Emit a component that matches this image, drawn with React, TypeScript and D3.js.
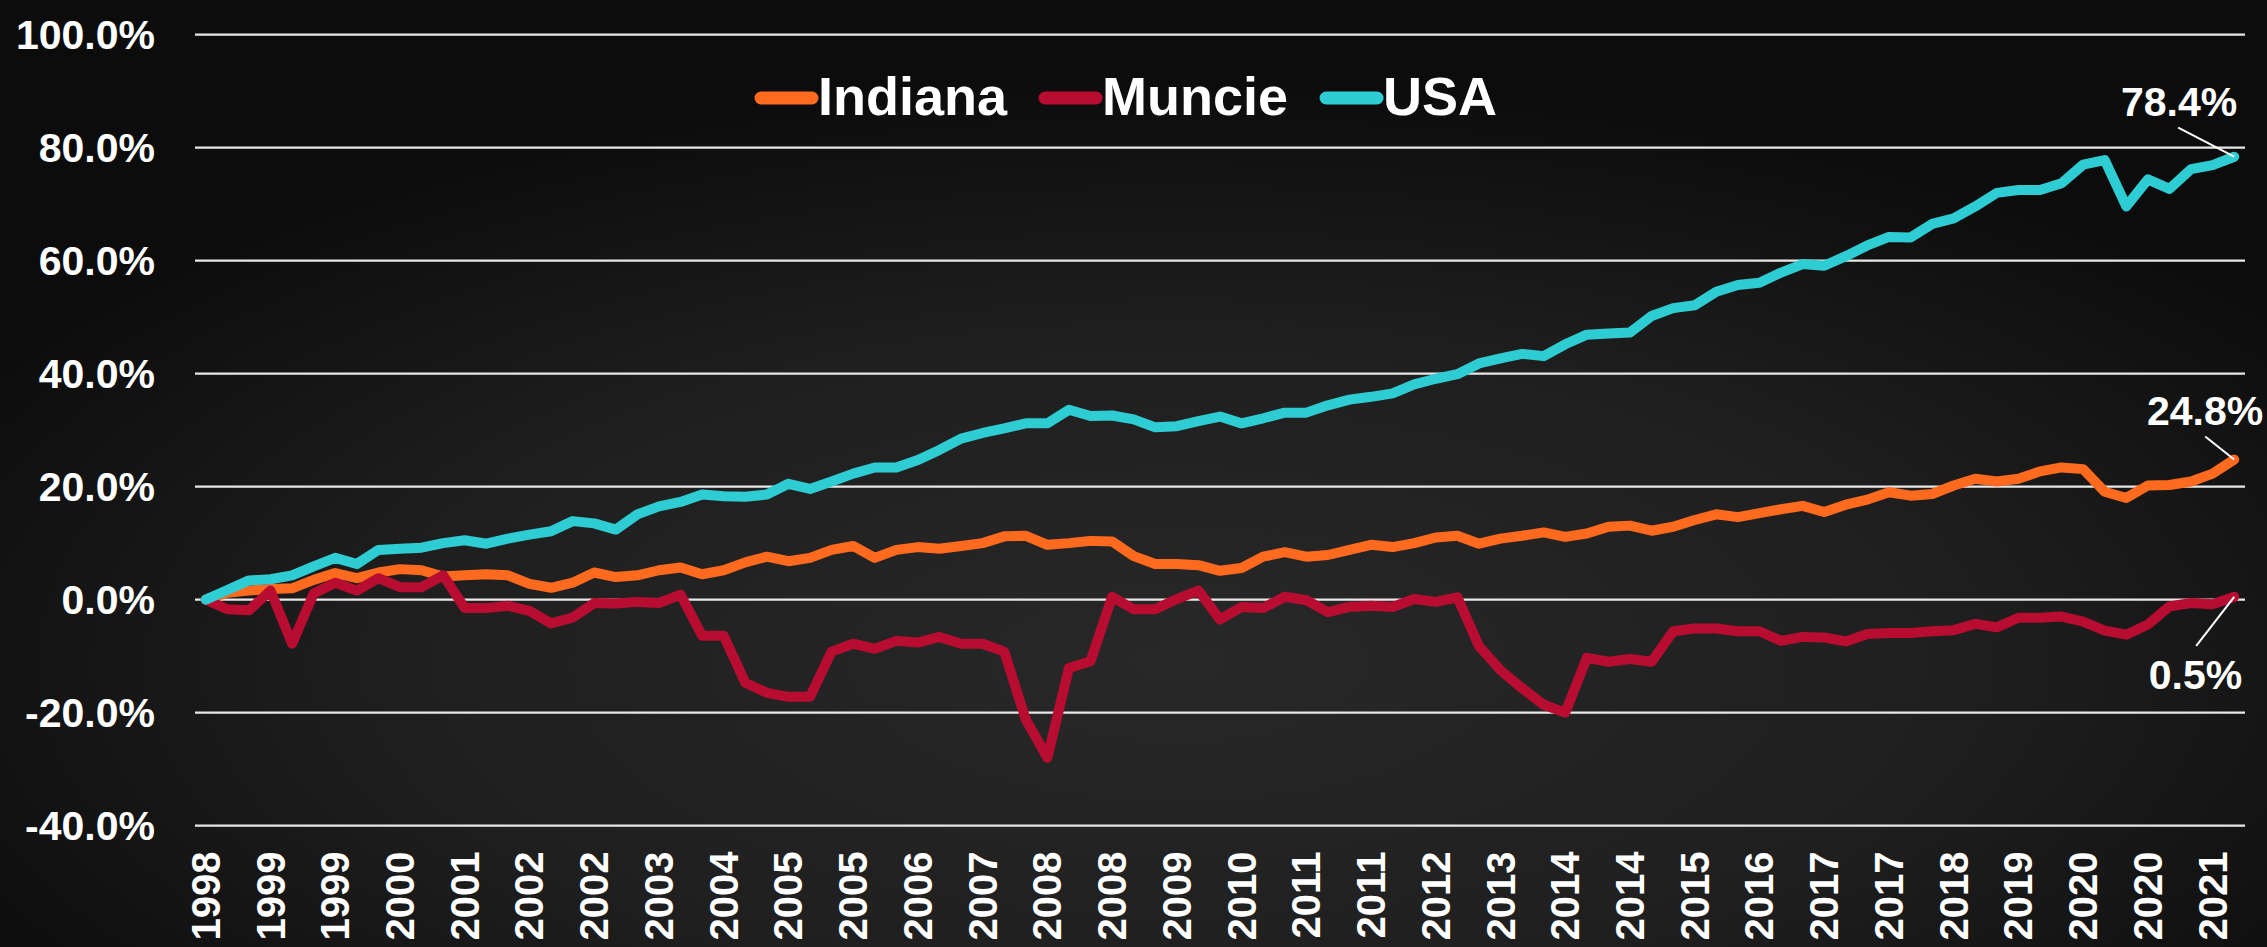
import { useRef, useEffect } from 'react';
import * as d3 from 'd3';

const WIDTH = 2267;
const HEIGHT = 947;

// quarterly, 1998 Q2 .. 2021 Q4, cumulative change in %
const indiana = [
	0, 1.2, 1.6, 1.9, 2.0, 3.5, 4.7, 3.8, 4.8, 5.4, 5.2, 4.1, 4.3, 4.5, 4.3, 2.8,
	2.1, 3.0, 4.8, 4.0, 4.3, 5.2, 5.7, 4.5, 5.2, 6.6, 7.6, 6.8, 7.4, 8.8, 9.5, 7.4,
	8.8, 9.3, 9.0, 9.5, 10.0, 11.2, 11.3, 9.7, 10.0, 10.4, 10.3, 7.7, 6.3, 6.3, 6.1, 5.1,
	5.6, 7.6, 8.4, 7.6, 7.9, 8.8, 9.7, 9.3, 10.0, 11.0, 11.3, 9.9, 10.8, 11.3, 11.9, 11.1,
	11.7, 12.9, 13.1, 12.2, 12.9, 14.1, 15.1, 14.6, 15.3, 16.0, 16.6, 15.5, 16.8, 17.7, 19.0, 18.4,
	18.7, 20.2, 21.4, 20.9, 21.4, 22.7, 23.4, 23.1, 19.1, 18.0, 20.2, 20.3, 20.9, 22.3, 24.8,
];

const muncie = [
	0, -1.7, -1.9, 1.6, -7.8, 1.1, 3.0, 1.6, 3.8, 2.2, 2.2, 4.3, -1.5, -1.5, -1.1, -2.0,
	-4.2, -3.2, -0.6, -0.7, -0.4, -0.6, 0.9, -6.4, -6.4, -14.7, -16.5, -17.2, -17.2, -9.2, -7.8, -8.7,
	-7.3, -7.6, -6.6, -7.8, -7.8, -9.2, -21.2, -28.0, -12.1, -10.9, 0.5, -1.7, -1.7, 0.1, 1.6, -3.5,
	-1.3, -1.5, 0.5, -0.1, -2.2, -1.3, -1.1, -1.3, 0.1, -0.4, 0.4, -8.2, -12.5, -15.7, -18.6, -20.0,
	-10.3, -11.0, -10.5, -11.0, -5.6, -5.1, -5.1, -5.6, -5.6, -7.3, -6.6, -6.7, -7.4, -6.1, -5.9, -5.9,
	-5.6, -5.4, -4.3, -4.9, -3.2, -3.2, -3.0, -3.9, -5.5, -6.2, -4.4, -1.2, -0.6, -0.8, 0.5,
];

const usa = [
	0, 1.7, 3.4, 3.6, 4.3, 5.9, 7.4, 6.3, 8.8, 9.0, 9.2, 10.0, 10.5, 9.9, 10.8, 11.5,
	12.1, 13.9, 13.5, 12.4, 15.1, 16.5, 17.3, 18.6, 18.3, 18.2, 18.6, 20.5, 19.6, 20.9, 22.3, 23.4,
	23.4, 24.7, 26.5, 28.5, 29.5, 30.3, 31.2, 31.2, 33.6, 32.5, 32.6, 31.9, 30.5, 30.7, 31.6, 32.4,
	31.2, 32.1, 33.1, 33.1, 34.4, 35.4, 35.9, 36.5, 38.1, 39.1, 39.9, 41.8, 42.7, 43.5, 43.1, 45.2,
	46.9, 47.1, 47.3, 50.2, 51.6, 52.1, 54.5, 55.7, 56.1, 57.9, 59.4, 59.1, 60.8, 62.7, 64.2, 64.1,
	66.5, 67.5, 69.6, 72.0, 72.5, 72.5, 73.7, 77.0, 77.8, 69.6, 74.4, 72.7, 76.2, 76.9, 78.4,
];

// one label every third quarter
const tickLabels = [
	'1998', '1999', '1999', '2000', '2001', '2002', '2002', '2003',
	'2004', '2005', '2005', '2006', '2007', '2008', '2008', '2009',
	'2010', '2011', '2011', '2012', '2013', '2014', '2014', '2015',
	'2016', '2017', '2017', '2018', '2019', '2020', '2020', '2021',
];
const LABEL_EVERY = 3;

const seriesNames = ['Indiana', 'Muncie', 'USA'];
const seriesColors = ['#ff6a1f', '#b80d30', '#2ecdd3'];
const endLabels = ['24.8%', '0.5%', '78.4%'];

const yTicks = [-40, -20, 0, 20, 40, 60, 80, 100];

const FONT = "'Liberation Sans', Arial, sans-serif";

export default function App() {
	const svgRef = useRef<SVGSVGElement>(null);

	useEffect(() => {
		document.body.style.margin = '0';
		const svg = d3.select(svgRef.current);
		svg.selectAll('*').remove();

		const margin = { top: 34.7, right: 22, bottom: 121.4, left: 195 };
		const series = [indiana, muncie, usa];
		const n = usa.length;

		// background
		const defs = svg.append('defs');
		const bg = defs
			.append('radialGradient')
			.attr('id', 'bg-grad')
			.attr('cx', '52%')
			.attr('cy', '70%')
			.attr('r', '62%');
		bg.append('stop').attr('offset', '0%').attr('stop-color', '#282828');
		bg.append('stop').attr('offset', '55%').attr('stop-color', '#1f1f1f');
		bg.append('stop').attr('offset', '100%').attr('stop-color', '#0c0c0c');
		svg.append('rect')
			.attr('width', WIDTH)
			.attr('height', HEIGHT)
			.attr('fill', 'url(#bg-grad)');

		const xScale = d3
			.scaleBand<number>()
			.domain(d3.range(n))
			.range([margin.left, WIDTH - margin.right]);
		const xMid = (i: number) => (xScale(i) as number) + xScale.bandwidth() / 2;
		const yScale = d3
			.scaleLinear()
			.domain([-40, 100])
			.range([HEIGHT - margin.bottom, margin.top]);

		// gridlines
		svg.append('g')
			.selectAll('line')
			.data(yTicks)
			.join('line')
			.attr('x1', margin.left)
			.attr('x2', WIDTH - margin.right)
			.attr('y1', (d) => yScale(d))
			.attr('y2', (d) => yScale(d))
			.attr('stroke', '#e8e8e8')
			.attr('stroke-width', 2.2);

		// y labels
		svg.append('g')
			.selectAll('text')
			.data(yTicks)
			.join('text')
			.attr('x', 155)
			.attr('y', (d) => yScale(d))
			.attr('dy', '0.35em')
			.attr('text-anchor', 'end')
			.attr('font-family', FONT)
			.attr('font-weight', 'bold')
			.attr('font-size', 41)
			.attr('fill', '#fff')
			.text((d) => d.toFixed(1) + '%');

		// x labels
		svg.append('g')
			.selectAll('text')
			.data(tickLabels)
			.join('text')
			.attr(
				'transform',
				(_d, k) => `translate(${xMid(k * LABEL_EVERY)},${HEIGHT - margin.bottom + 26}) rotate(-90)`,
			)
			.attr('dy', '0.35em')
			.attr('text-anchor', 'end')
			.attr('font-family', FONT)
			.attr('font-weight', 'bold')
			.attr('font-size', 40)
			.attr('fill', '#fff')
			.text((d) => d);

		// lines
		const line = d3
			.line<number>()
			.x((_d, i) => xMid(i))
			.y((d) => yScale(d));
		series.forEach((vals, s) => {
			svg.append('path')
				.datum(vals)
				.attr('d', line)
				.attr('fill', 'none')
				.attr('stroke', seriesColors[s])
				.attr('stroke-width', 10)
				.attr('stroke-linejoin', 'round')
				.attr('stroke-linecap', 'round');
		});

		// end labels with leader lines
		const lastX = xMid(n - 1);
		const ann = svg.append('g');
		const addLabel = (
			s: number,
			tx: number,
			ty: number,
			lx: number,
			ly: number,
		) => {
			const py = yScale(series[s][n - 1]);
			ann.append('line')
				.attr('x1', lastX + lx)
				.attr('y1', py + ly)
				.attr('x2', lastX)
				.attr('y2', py)
				.attr('stroke', '#fff')
				.attr('stroke-width', 2);
			ann.append('text')
				.attr('x', lastX + tx)
				.attr('y', py + ty)
				.attr('text-anchor', 'end')
				.attr('font-family', FONT)
				.attr('font-weight', 'bold')
				.attr('font-size', 41)
				.attr('fill', '#fff')
				.text(endLabels[s]);
		};
		addLabel(2, 3, -41, -56, -29);
		addLabel(0, 29, -35, -29, -23);
		addLabel(1, 8, 92, -38, 49);

		// legend
		const legend = svg.append('g');
		let lx = 755;
		seriesNames.forEach((name, s) => {
			legend.append('line')
				.attr('x1', lx + 6)
				.attr('x2', lx + 57)
				.attr('y1', 98)
				.attr('y2', 98)
				.attr('stroke', seriesColors[s])
				.attr('stroke-width', 13)
				.attr('stroke-linecap', 'round');
			const t = legend
				.append('text')
				.attr('x', lx + 63)
				.attr('y', 115)
				.attr('font-family', FONT)
				.attr('font-weight', 'bold')
				.attr('font-size', 54)
				.attr('fill', '#fff')
				.text(name);
			const w = (t.node() as SVGTextElement).getComputedTextLength();
			lx += 63 + w + 32;
		});
	}, []);

	return (
		<svg
			ref={svgRef}
			width={WIDTH}
			height={HEIGHT}
			style={{ display: 'block', position: 'absolute', left: 0, top: 0 }}
		/>
	);
}
